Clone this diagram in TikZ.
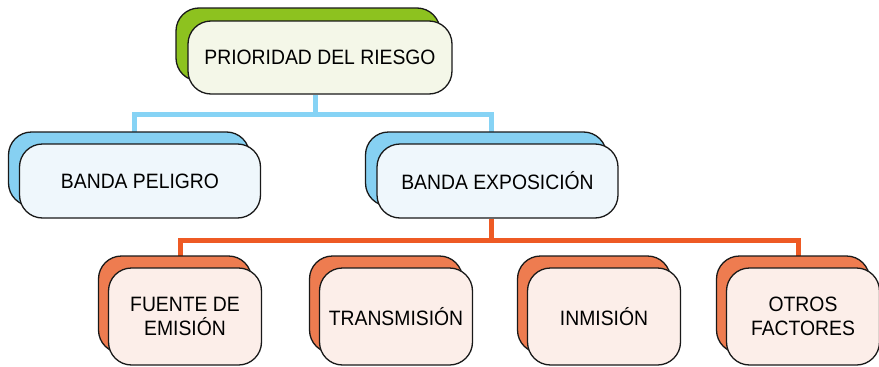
\documentclass[tikz,border=0pt]{standalone}
\usepackage{fontspec}
\setmainfont[FakeStretch=0.93]{Liberation Sans}
\usetikzlibrary{calc,backgrounds}
\definecolor{gback}{HTML}{8DC21F}
\definecolor{gfront}{HTML}{F4F7E8}
\definecolor{bback}{HTML}{86D0F2}
\definecolor{bfront}{HTML}{EFF7FC}
\definecolor{oback}{HTML}{EE7C50}
\definecolor{ofront}{HTML}{FCEEE9}
\definecolor{bl}{HTML}{86D3F5}
\definecolor{ol}{HTML}{EE5A24}
\tikzset{
  box/.style={draw=black!90, line width=1.3pt, rounded corners=23pt, inner sep=0pt,
    align=center, font=\fontsize{20.8}{24}\selectfont},
  topbox/.style={box, minimum width=264pt, minimum height=73pt},
  midbox/.style={box, minimum width=241pt, minimum height=74pt},
  lowbox/.style={box, minimum width=153pt, minimum height=97pt},
  bline/.style={draw=bl, line width=5pt},
  oline/.style={draw=ol, line width=5pt},
}
\begin{document}
\begin{tikzpicture}[x=1pt,y=-1pt]
\useasboundingbox (0,0) rectangle (879,367);
% top
\node[topbox, fill=gback] (topb) at (308,44.5) {};
\node[topbox, fill=gfront] (top) at (320,57.5) {PRIORIDAD DEL RIESGO};
% middle
\node[midbox, fill=bback] (pelb) at (129,169) {};
\node[midbox, fill=bfront] (pel) at (140,181) {BANDA PELIGRO};
\node[midbox, fill=bback] (expb) at (486,169) {};
\node[midbox, fill=bfront] (exp) at (497.5,181) {BANDA EXPOSICIÓN};
% bottom
\node[lowbox, fill=oback] (fueb) at (175,304.5) {};
\node[lowbox, fill=ofront] (fue) at (185,316.5) {FUENTE DE\\EMISIÓN};
\node[lowbox, fill=oback] (trab) at (386,304.5) {};
\node[lowbox, fill=ofront] (tra) at (396,316.5) {TRANSMISIÓN};
\node[lowbox, fill=oback] (inmb) at (594,304.5) {};
\node[lowbox, fill=ofront] (inm) at (604,316.5) {INMISIÓN};
\node[lowbox, fill=oback] (otrb) at (793,304.5) {};
\node[lowbox, fill=ofront] (otr) at (803,316.5) {OTROS\\FACTORES};
% connectors
\begin{scope}[on background layer]
\coordinate (j1) at ($(top.south)+(-5,20)$);
\coordinate (j2) at ($(exp.south)+(-6,22)$);
\draw[bline] (top.south -| j1) -- (j1);
\draw[bline] ($(pel.north)!0.5!(pelb.north)$) |- (j1) -| ($(exp.north)!0.5!(expb.north)$);
\draw[oline] (exp.south -| j2) -- (j2);
\draw[oline] ($(fue.north)!0.5!(fueb.north)$) |- (j2) -| ($(otr.north)!0.5!(otrb.north)$);
\draw[oline] ($(tra.north)!0.5!(trab.north)$) -- ($(tra.north)!0.5!(trab.north)$ |- j2);
\draw[oline] ($(inm.north)!0.5!(inmb.north)$) -- ($(inm.north)!0.5!(inmb.north)$ |- j2);
\end{scope}
\end{tikzpicture}
\end{document}
